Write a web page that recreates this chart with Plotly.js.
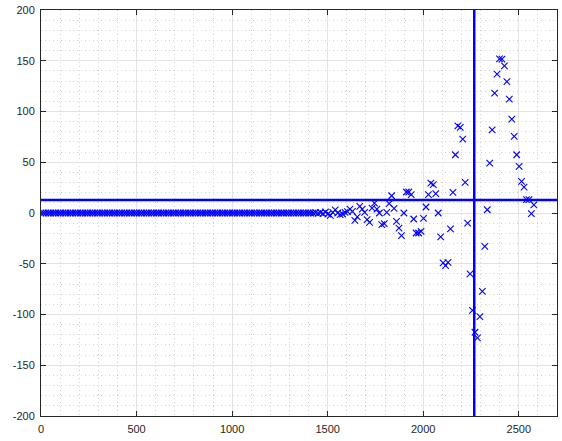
<!DOCTYPE html>
<html>
<head>
<meta charset="utf-8">
<script src="https://cdn.plot.ly/plotly-3.0.1.min.js"></script>
<style>
  html, body { margin: 0; padding: 0; background: #ffffff; }
  #plot { width: 562px; height: 441px; }
</style>
</head>
<body>
<div id="plot"></div>
<script>
// Sampled response: uniform spacing along x, one value per sample.
const sampleStart = 0;
const sampleStep = 12.83;

const sampleValues = [
  // flat part
  0, 0, 0, 0, 0, 0, 0, 0, 0, 0, 0, 0, 0, 0, 0, 0, 0, 0, 0, 0,
  0, 0, 0, 0, 0, 0, 0, 0, 0, 0, 0, 0, 0, 0, 0, 0, 0, 0, 0, 0,
  0, 0, 0, 0, 0, 0, 0, 0, 0, 0, 0, 0, 0, 0, 0, 0, 0, 0, 0, 0,
  0, 0, 0, 0, 0, 0, 0, 0, 0, 0, 0, 0, 0, 0, 0, 0, 0, 0, 0, 0,
  0, 0, 0, 0, 0, 0, 0, 0, 0, 0, 0, 0, 0, 0, 0, 0, 0, 0, 0, 0,
  0, 0, 0, 0, 0, 0, 0, 0, 0, 0, 0, 0,
  // onset of the oscillation
  0.3, -0.4, 0.5, -0.6,
  1.0, -1.0, -2.4, 0.6, 3.0, 0, -1.7, -1.0, 0.6, 1.3,
  3.9, 1.6, -7.3, -3.9, 6.5, 3.9, 0.6, -6.6, -9.3, 4.9,
  9.8, 3.9, 0, -11.5, -10.5, 0.6, 9.2, 17.0, 4.5, -8.3,
  -14.8, -22.3, 0, 20.7, 20.7, 18.0, -5.9, -19.7, -19.7, -18.1,
  -5.3, 5.9, 18.0, 29.5, 27.9, 19.0, 0, -23.6, -49.2, -51.9,
  -48.6, -15.7, 20.3, 57.4, 85.9, 84.4, 72.8, 30.1, -10.0, -60.0,
  -95.9, -117.5, -123.0, -102.1, -77.2, -32.9, 3.2, 49.2, 82.0, 118.1,
  136.8, 151.9, 151.6, 145.0, 129.5, 112.2, 92.5, 75.4, 57.4, 45.9,
  31.1, 25.6, 13.1, 13.1, -0.7, 7.9
];

// Reference levels drawn as full-span lines
const levelY = 12.8;
const markerX = 2267;

const xRange = [0, 2700];
const yRange = [-200, 200];
const xTicks = [0, 500, 1000, 1500, 2000, 2500];
const yTicks = [-200, -150, -100, -50, 0, 50, 100, 150, 200];

const blue = '#0000ff';

const traces = [
  {
    type: 'scatter',
    mode: 'markers',
    x0: sampleStart,
    dx: sampleStep,
    y: sampleValues,
    marker: {
      symbol: 'x-thin',
      size: 6.5,
      color: blue,
      line: { color: blue, width: 1.1 }
    },
    hoverinfo: 'x+y'
  },
  {
    type: 'scatter',
    mode: 'lines',
    x: xRange,
    y: [levelY, levelY],
    line: { color: blue, width: 2.5 },
    hoverinfo: 'skip'
  },
  {
    type: 'scatter',
    mode: 'lines',
    x: [markerX, markerX],
    y: yRange,
    line: { color: blue, width: 2.5 },
    hoverinfo: 'skip'
  }
];

const minorGrid = { showgrid: true, gridcolor: '#d4d4d4', griddash: '1px,3px', gridwidth: 1, ticks: '' };

const axisCommon = {
  showline: true,
  linecolor: '#262626',
  linewidth: 1,
  mirror: 'ticks',
  ticks: 'inside',
  ticklen: 5,
  tickwidth: 1,
  tickcolor: '#262626',
  showgrid: true,
  gridcolor: '#e3e3e3',
  gridwidth: 1,
  zeroline: false,
  tickfont: { family: 'Liberation Sans, Arial, sans-serif', size: 11, color: '#262626' },
  ticklabelstandoff: 3
};

const layout = {
  width: 562,
  height: 441,
  margin: { l: 41, r: 5, t: 10, b: 25 },
  paper_bgcolor: '#ffffff',
  plot_bgcolor: '#ffffff',
  showlegend: false,
  xaxis: Object.assign({}, axisCommon, {
    range: xRange,
    tickmode: 'array',
    tickvals: xTicks,
    ticktext: xTicks.map(String),
    minor: Object.assign({ dtick: 100, tick0: 0 }, minorGrid)
  }),
  yaxis: Object.assign({}, axisCommon, {
    range: yRange,
    tickmode: 'array',
    tickvals: yTicks,
    ticktext: yTicks.map(String),
    minor: Object.assign({ dtick: 10, tick0: 0 }, minorGrid)
  })
};

Plotly.newPlot('plot', traces, layout, { displayModeBar: false, staticPlot: true });
</script>
</body>
</html>
